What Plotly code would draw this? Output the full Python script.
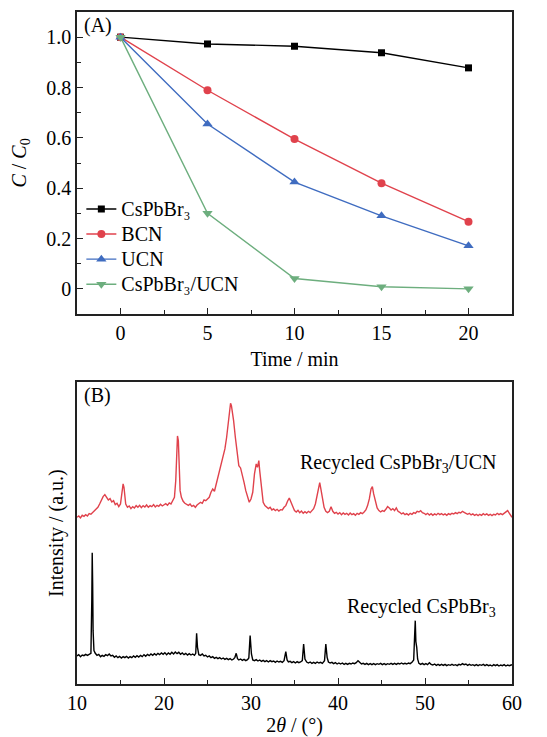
import plotly.graph_objects as go

# ---------------- Panel A data ----------------
time_min = [0, 5, 10, 15, 20]
cspbbr3 = [1.0, 0.973, 0.964, 0.938, 0.878]
bcn = [1.0, 0.789, 0.595, 0.420, 0.267]
ucn = [1.0, 0.655, 0.424, 0.290, 0.171]
cspbbr3_ucn = [1.0, 0.300, 0.041, 0.008, 0.0]
legend_names = ["CsPbBr₃", "BCN", "UCN", "CsPbBr₃/UCN"]

# ---------------- Panel B data (arbitrary units) ----------------
red_x = [10.0, 10.2, 10.4, 10.6, 10.8, 11.0, 11.2, 11.4, 11.6, 11.8, 12.0, 12.2, 12.4, 12.6, 12.8,
         13.0, 13.2, 13.4, 13.6, 13.8, 14.0, 14.2, 14.4, 14.6, 14.8, 15.0, 15.1, 15.2, 15.3, 15.4,
         15.5, 15.6, 15.8, 16.0, 16.2, 16.4, 16.6, 16.8, 17.0, 17.2, 17.4, 17.6, 17.8, 18.0, 18.2,
         18.4, 18.6, 18.8, 19.0, 19.2, 19.4, 19.6, 19.8, 20.0, 20.2, 20.4, 20.6, 20.8, 21.0, 21.2,
         21.35, 21.45, 21.55, 21.65, 21.75, 21.85, 22.0, 22.2, 22.4, 22.6, 22.8, 23.0, 23.2, 23.4,
         23.6, 23.8, 24.0, 24.2, 24.4, 24.6, 24.8, 25.0, 25.2, 25.4, 25.6, 25.8, 26.0, 26.2, 26.4,
         26.6, 26.8, 27.0, 27.2, 27.4, 27.55, 27.65, 27.75, 27.9, 28.0, 28.2, 28.4, 28.5, 28.6,
         28.8, 29.0, 29.2, 29.4, 29.6, 29.8, 30.0, 30.2, 30.4, 30.6, 30.75, 30.9, 31.0, 31.2, 31.4,
         31.6, 31.8, 32.0, 32.2, 32.4, 32.6, 32.8, 33.0, 33.2, 33.4, 33.6, 33.8, 34.0, 34.2, 34.4,
         34.6, 34.8, 35.0, 35.2, 35.4, 35.6, 35.8, 36.0, 36.2, 36.4, 36.6, 36.8, 37.0, 37.2, 37.4,
         37.6, 37.8, 37.9, 38.0, 38.2, 38.4, 38.6, 38.8, 39.0, 39.2, 39.4, 39.6, 39.8, 40.0, 40.2,
         40.4, 40.6, 40.8, 41.0, 41.2, 41.4, 41.6, 41.8, 42.0, 42.2, 42.4, 42.6, 42.8, 43.0, 43.2,
         43.4, 43.6, 43.8, 43.95, 44.1, 44.3, 44.5, 44.7, 44.9, 45.1, 45.3, 45.5, 45.7, 45.9, 46.1,
         46.3, 46.5, 46.7, 46.9, 47.1, 47.3, 47.5, 47.7, 47.9, 48.1, 48.3, 48.5, 48.7, 48.9, 49.1,
         49.3, 49.5, 49.7, 49.9, 50.1, 50.3, 50.5, 50.7, 50.9, 51.1, 51.3, 51.5, 51.7, 51.9, 52.1,
         52.3, 52.5, 52.7, 52.9, 53.1, 53.3, 53.5, 53.7, 53.9, 54.1, 54.3, 54.5, 54.7, 54.9, 55.1,
         55.3, 55.5, 55.7, 55.9, 56.1, 56.3, 56.5, 56.7, 56.9, 57.1, 57.3, 57.5, 57.7, 57.9, 58.1,
         58.3, 58.5, 58.7, 58.9, 59.1, 59.3, 59.5, 59.7, 59.9, 60.0]
red_y = [500, 504, 498, 506, 503, 508, 504, 511, 509, 515, 518, 524, 530, 540, 552,
         562, 568, 560, 552, 556, 546, 550, 538, 542, 532, 540, 560, 585, 600, 590,
         560, 540, 530, 534, 526, 532, 528, 535, 530, 536, 529, 535, 531, 537, 530,
         535, 532, 538, 531, 536, 533, 539, 534, 537, 541, 536, 543, 540, 548, 560,
         610, 690, 744, 730, 650, 580, 560, 548, 542, 538, 536, 540, 533, 536,
         530, 537, 540, 545, 542, 552, 550, 556, 560, 575, 585, 578, 600, 615, 640,
         660, 690, 705, 740, 790, 830, 842, 835, 810, 790, 740, 690, 670, 655,
         648, 630, 605, 580, 560, 545, 555, 575, 630, 660, 650, 670, 640, 580, 545,
         535, 530, 526, 530, 522, 525, 520, 524, 519, 523, 522, 530, 535, 548, 558,
         545, 530, 520, 516, 521, 514, 519, 512, 517, 513, 518, 514, 520, 526, 540,
         565, 600, 604, 590, 555, 530, 518, 514, 518, 532, 518, 512, 515, 510, 514,
         508, 513, 509, 512, 507, 513, 508, 511, 506, 512, 509, 514, 511, 516, 522,
         535, 555, 585, 592, 570, 545, 528, 520, 516, 520, 518, 524, 532, 528, 522,
         526, 520, 528, 518, 515, 510, 513, 508, 511, 507, 512, 509, 514, 512, 518,
         516, 520, 514, 512, 508, 512, 507, 511, 506, 510, 507, 512, 508, 511, 507,
         510, 506, 511, 508, 512, 510, 514, 511, 515, 513, 518, 516, 512, 509, 512,
         507, 510, 506, 509, 505, 509, 506, 511, 507, 510, 506, 509, 505, 509, 507,
         512, 508, 511, 508, 513, 516, 520, 512, 505, 500]

black_x = [10.0, 10.2, 10.4, 10.6, 10.8, 11.0, 11.2, 11.4, 11.6, 11.7, 11.75, 11.8, 11.85, 11.95,
           12.1, 12.3, 12.5, 12.7, 12.9, 13.1, 13.3, 13.5, 13.7, 13.9, 14.1, 14.3, 14.5, 14.7,
           14.9, 15.1, 15.3, 15.5, 15.7, 15.9, 16.1, 16.3, 16.5, 16.7, 16.9, 17.1, 17.3, 17.5,
           17.7, 17.9, 18.1, 18.3, 18.5, 18.7, 18.9, 19.1, 19.3, 19.5, 19.7, 19.9, 20.1, 20.3,
           20.5, 20.7, 20.9, 21.1, 21.3, 21.5, 21.7, 21.9, 22.1, 22.3, 22.5, 22.7, 22.9, 23.1,
           23.3, 23.5, 23.65, 23.75, 23.85, 24.0, 24.2, 24.4, 24.6, 24.8, 25.0, 25.2, 25.4, 25.6,
           25.8, 26.0, 26.2, 26.4, 26.6, 26.8, 27.0, 27.2, 27.4, 27.6, 27.8, 28.0, 28.15, 28.3,
           28.45, 28.6, 28.8, 29.0, 29.2, 29.4, 29.6, 29.75, 29.9, 30.05, 30.2, 30.4, 30.6, 30.8,
           31.0, 31.2, 31.4, 31.6, 31.8, 32.0, 32.2, 32.4, 32.6, 32.8, 33.0, 33.2, 33.4, 33.6,
           33.8, 34.0, 34.15, 34.3, 34.5, 34.7, 34.9, 35.1, 35.3, 35.5, 35.7, 35.9, 36.05, 36.2,
           36.4, 36.6, 36.8, 37.0, 37.2, 37.4, 37.6, 37.8, 38.0, 38.2, 38.45, 38.6, 38.75, 38.9,
           39.1, 39.3, 39.5, 39.7, 39.9, 40.1, 40.3, 40.5, 40.7, 40.9, 41.1, 41.3, 41.5, 41.7,
           41.9, 42.1, 42.3, 42.5, 42.7, 42.9, 43.1, 43.3, 43.5, 43.7, 43.9, 44.1, 44.3, 44.5,
           44.7, 44.9, 45.1, 45.3, 45.5, 45.7, 45.9, 46.1, 46.3, 46.5, 46.7, 46.9, 47.1, 47.3,
           47.5, 47.7, 47.9, 48.1, 48.3, 48.5, 48.7, 48.8, 48.88, 48.95, 49.05, 49.15, 49.3, 49.5,
           49.7, 49.9, 50.1, 50.3, 50.5, 50.7, 50.9, 51.1, 51.3, 51.5, 51.7, 51.9, 52.1, 52.3,
           52.5, 52.7, 52.9, 53.1, 53.3, 53.5, 53.7, 53.9, 54.1, 54.3, 54.5, 54.7, 54.9, 55.1,
           55.3, 55.5, 55.7, 55.9, 56.1, 56.3, 56.5, 56.7, 56.9, 57.1, 57.3, 57.5, 57.7, 57.9,
           58.1, 58.3, 58.5, 58.7, 58.9, 59.1, 59.3, 59.5, 59.7, 59.9, 60.0]
black_y = [84, 88, 82, 87, 85, 89, 86, 90, 92, 250, 394, 300, 160, 100,
           92, 86, 89, 82, 86, 83, 88, 85, 90, 84, 86, 80, 84, 79,
           83, 78, 82, 79, 83, 78, 82, 79, 84, 80, 85, 81, 86, 82,
           88, 83, 89, 85, 90, 86, 91, 87, 92, 88, 93, 89, 94, 88,
           93, 89, 95, 90, 96, 91, 95, 89, 93, 88, 92, 87, 91, 87,
           90, 86, 92, 152, 110, 88, 86, 90, 84, 86, 81, 84, 79, 82,
           77, 80, 76, 79, 75, 78, 74, 77, 73, 76, 72, 75, 80, 92,
           76, 72, 75, 71, 74, 70, 73, 78, 145, 90, 72, 70, 73, 69,
           72, 68, 71, 67, 70, 66, 70, 67, 69, 65, 69, 66, 68, 65,
           70, 97, 72, 66, 68, 64, 67, 63, 67, 64, 66, 70, 120, 75,
           66, 63, 66, 62, 65, 62, 66, 63, 65, 62, 70, 120, 80, 66,
           63, 65, 61, 64, 60, 63, 60, 63, 59, 62, 59, 62, 60, 63,
           61, 64, 70, 64, 60, 62, 59, 62, 58, 61, 58, 61, 58, 61,
           59, 62, 58, 61, 58, 61, 59, 62, 59, 62, 59, 62, 60, 63,
           60, 62, 60, 63, 61, 65, 72, 140, 190, 127, 110, 75, 62, 59,
           62, 58, 61, 58, 64, 59, 57, 60, 56, 59, 56, 59, 56, 59,
           55, 58, 56, 59, 56, 58, 55, 59, 57, 61, 58, 60, 56, 59,
           56, 58, 55, 58, 55, 58, 56, 59, 55, 58, 55, 57, 54, 58,
           55, 58, 54, 57, 55, 58, 54, 57, 55, 57, 58]

FONT = "Liberation Serif"
FS = 20
RED = "#E0424C"
BLUE = "#3F6CC0"
GREEN = "#6DAE7E"
AXC = "#222222"

fig = go.Figure()

series = [
    (legend_names[0], cspbbr3, "black", "square", 7),
    (legend_names[1], bcn, RED, "circle", 8),
    (legend_names[2], ucn, BLUE, "triangle-up", 9),
    (legend_names[3], cspbbr3_ucn, GREEN, "triangle-down", 9),
]
for name, vals, col, sym, sz in series:
    fig.add_trace(go.Scatter(
        x=time_min, y=vals,
        name='<span style="font-size:20px">' + name + '</span>',
        mode="lines+markers",
        line=dict(color=col, width=1.4),
        marker=dict(symbol=sym, size=sz, color=col, line=dict(width=0)),
        xaxis="x", yaxis="y"))

fig.add_trace(go.Scatter(x=red_x, y=red_y, mode="lines", line=dict(color=RED, width=1.4),
                         showlegend=False, xaxis="x2", yaxis="y2"))
fig.add_trace(go.Scatter(x=black_x, y=black_y, mode="lines", line=dict(color="black", width=1.4),
                         showlegend=False, xaxis="x2", yaxis="y2"))

axis_common = dict(showline=True, mirror=True, linecolor=AXC, linewidth=1.5,
                   showgrid=False, zeroline=False, ticks="inside", tickcolor=AXC,
                   tickwidth=1.2, ticklen=6, automargin=False,
                   tickfont=dict(family=FONT, size=FS, color="black"))

top_dom = [0.5506, 1.0]
bot_dom = [0.0, 0.449]

fig.update_layout(
    template="none",
    width=547, height=737,
    margin=dict(l=77, r=35, t=12, b=53),
    paper_bgcolor="white", plot_bgcolor="white",
    font=dict(family=FONT, size=FS, color="black"),
    xaxis=dict(**axis_common, domain=[0, 1], anchor="y", range=[-2.5, 22.5],
               tickvals=[0, 5, 10, 15, 20],
               minor=dict(ticks="inside", ticklen=4, tickcolor=AXC, tickvals=[2.5, 7.5, 12.5, 17.5]),
               title=dict(text="Time / min", font=dict(family=FONT, size=FS), standoff=9)),
    yaxis=dict(**axis_common, domain=top_dom, anchor="x", range=[-0.1, 1.1],
               tickvals=[0, 0.2, 0.4, 0.6, 0.8, 1.0],
               ticktext=["0", "0.2", "0.4", "0.6", "0.8", "1.0"],
               minor=dict(ticks="inside", ticklen=4, tickcolor=AXC,
                          tickvals=[0.1, 0.3, 0.5, 0.7, 0.9]),
               title=dict(text="<i>C</i> / <i>C</i><sub>0</sub>", font=dict(family=FONT, size=FS), standoff=14)),
    xaxis2=dict(**axis_common, domain=[0, 1], anchor="y2", range=[10, 60],
                tickvals=[10, 20, 30, 40, 50, 60],
                minor=dict(ticks="inside", ticklen=4, tickcolor=AXC, tickvals=[15, 25, 35, 45, 55]),
                title=dict(text="2<i>θ</i> / (°)", font=dict(family=FONT, size=FS), standoff=9)),
    yaxis2=dict(showline=True, mirror=True, linecolor=AXC, linewidth=1.5, showgrid=False,
                zeroline=False, ticks="", showticklabels=False, domain=bot_dom, anchor="x2",
                range=[0, 905], automargin=False,
                title=dict(text="Intensity / (a.u.)", font=dict(family=FONT, size=FS), standoff=6)),
    legend=dict(x=0.01, y=0.733, xanchor="left", yanchor="top", bgcolor="rgba(0,0,0,0)",
                font=dict(family=FONT, size=17), tracegroupgap=0, itemwidth=30),
    showlegend=True,
)

fig.add_annotation(text="(A)", xref="x domain", yref="y domain", x=0.012, y=0.955,
                   xanchor="left", yanchor="middle", showarrow=False,
                   font=dict(family=FONT, size=FS, color="black"))
fig.add_annotation(text="(B)", xref="x2 domain", yref="y2 domain", x=0.012, y=0.955,
                   xanchor="left", yanchor="middle", showarrow=False,
                   font=dict(family=FONT, size=FS, color="black"))
fig.add_annotation(text="Recycled CsPbBr<sub>3</sub>/UCN", xref="x2", yref="y2", x=58.35, y=662,
                   xanchor="right", yanchor="middle", showarrow=False,
                   font=dict(family=FONT, size=FS, color="black"))
fig.add_annotation(text="Recycled CsPbBr<sub>3</sub>", xref="x2", yref="y2", x=58.35, y=230,
                   xanchor="right", yanchor="middle", showarrow=False,
                   font=dict(family=FONT, size=FS, color="black"))

fig.write_html("out.html")
